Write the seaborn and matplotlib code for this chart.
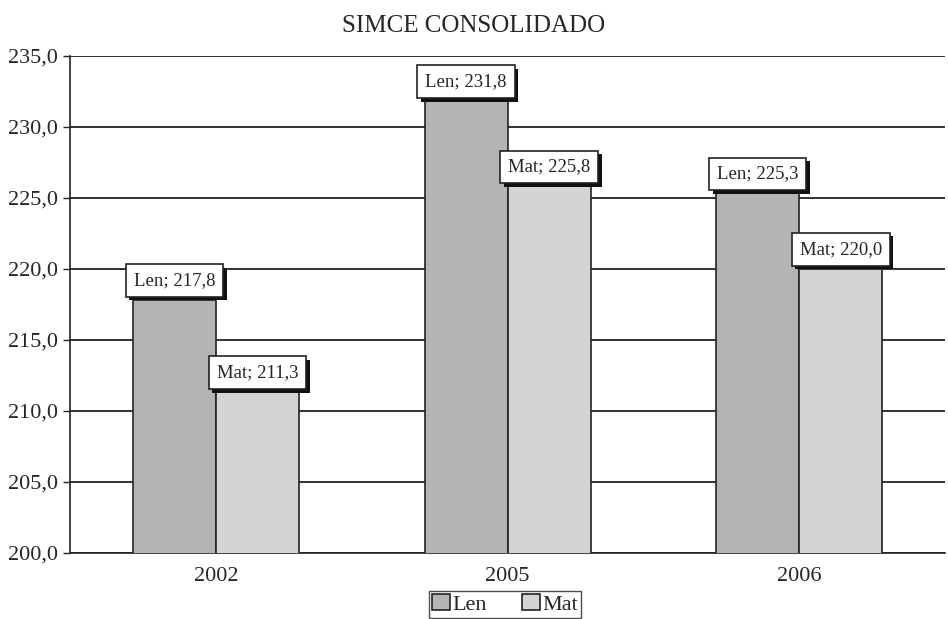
import matplotlib
matplotlib.use("Agg")
import matplotlib.pyplot as plt
import matplotlib.patheffects as pe
import seaborn as sns
import pandas as pd

# ============================================================
# DONNÉES
# ============================================================

years = ["2002", "2005", "2006"]
len_scores = [217.8, 231.8, 225.3]
mat_scores = [211.3, 225.8, 220.0]
series = ["Len", "Mat"]
colors = ["#b4b4b7", "#d4d4d6"]

df = pd.DataFrame({
    "year": years * 2,
    "serie": ["Len"] * 3 + ["Mat"] * 3,
    "score": len_scores + mat_scores,
})

# ============================================================
# FIGURE
# ============================================================

sns.set_style("white")
plt.rcParams["font.family"] = ["Liberation Serif", "DejaVu Serif"]

fig = plt.figure(figsize=(9.48, 6.19), dpi=100)
ax = fig.add_axes([0.074, 0.107, 0.923, 0.803])

sns.barplot(data=df, x="year", y="score", hue="serie", hue_order=series,
            palette=colors, width=0.57, edgecolor="#222222", linewidth=1.2,
            ax=ax, legend=True, zorder=3)

ax.set_ylim(200, 235)
ax.set_xlim(-0.5, 2.5)
ax.set_yticks([200 + 5 * i for i in range(8)])
ax.set_yticklabels([f"{200 + 5 * i:.1f}".replace(".", ",") for i in range(8)], fontsize=16)
ax.set_xticks(range(3))
ax.set_xticklabels(years, fontsize=16)
ax.tick_params(axis="x", length=0, pad=10)
ax.set_xticks([0.5, 1.5, 2.5], minor=True)
ax.tick_params(axis="x", which="minor", length=5, width=1, color="#222222", direction="out")
ax.tick_params(axis="y", length=5, width=1, color="#222222", direction="out", left=True, pad=4)

ax.yaxis.grid(True, color="#222222", linewidth=1.3, zorder=0)
ax.set_axisbelow(True)
for s in ["top", "right"]:
    ax.spines[s].set_visible(False)
for s in ["left", "bottom"]:
    ax.spines[s].set_color("#222222")
    ax.spines[s].set_linewidth(1.2)
ax.set_xlabel("")
ax.set_ylabel("")

# ============================================================
# ÉTIQUETTES
# ============================================================

for name, cont in zip(series, ax.containers):
    for bar in cont:
        h = bar.get_height()
        label = f"{name}; {h:.1f}".replace(".", ",")
        t = ax.annotate(label, (bar.get_x() + bar.get_width() / 2, h),
                        xytext=(0, 14), textcoords="offset points",
                        ha="center", va="center", fontsize=13.5, zorder=5,
                        bbox=dict(boxstyle="square,pad=0.42", fc="white",
                                  ec="#222222", lw=1.2))
        t.get_bbox_patch().set_path_effects([
            pe.SimplePatchShadow(offset=(2.5, -2.5), shadow_rgbFace="#111111", alpha=1),
            pe.Normal(),
        ])

fig.suptitle("SIMCE CONSOLIDADO", y=0.975, fontsize=18)

leg = ax.legend(loc="upper center", bbox_to_anchor=(0.497, -0.077), ncol=2,
                frameon=True, fancybox=False, edgecolor="#222222",
                fontsize=16, handlelength=0.8, handleheight=0.7,
                handletextpad=0.1, columnspacing=1.6, borderpad=0.15,
                borderaxespad=0)
leg.get_frame().set_linewidth(1.0)

fig.savefig("out.png", dpi=100)
